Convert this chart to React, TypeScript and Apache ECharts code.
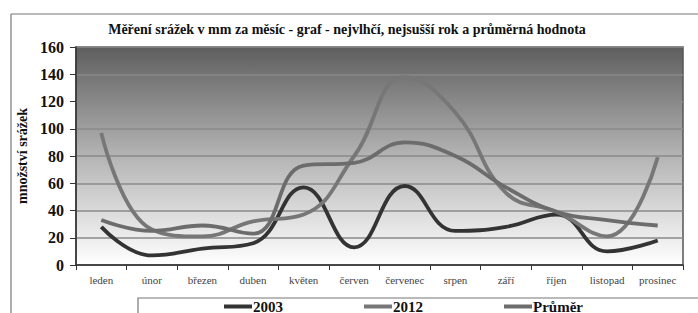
import React, { useEffect, useRef } from "react";
import * as echarts from "echarts";

const months = ["leden", "únor", "březen", "duben", "květen", "červen", "červenec", "srpen", "září", "říjen", "listopad", "prosinec"];
const s2003 = [28, 7, 12, 16, 57, 13, 58, 25, 28, 37, 10, 18];
const s2012 = [97, 26, 21, 32, 37, 80, 138, 112, 53, 39, 21, 79];
const sAvg = [33, 25, 29, 23, 73, 75, 90, 80, 57, 39, 33, 29];
const yTicks = [0, 20, 40, 60, 80, 100, 120, 140, 160];

const SERIF = "Liberation Serif, Times New Roman, serif";

export default function App() {
  const ref = useRef<HTMLDivElement>(null);
  useEffect(() => {
    if (!ref.current) return;
    const chart = echarts.init(ref.current, null, { renderer: "svg" });
    const mk = (name: string, data: number[], color: string) => ({
      name,
      type: "line",
      data,
      smooth: 0.45,
      showSymbol: false,
      symbol: "none",
      lineStyle: { color, width: 3.8 },
      itemStyle: { color },
    });
    chart.setOption({
      animation: false,
      backgroundColor: "#ffffff",
      title: {
        text: "Měření srážek v mm za měsíc - graf - nejvlhčí, nejsušší rok a průměrná hodnota",
        left: 347,
        textAlign: "center",
        top: 22,
        padding: 0,
        textStyle: { fontFamily: SERIF, fontWeight: "bold", fontSize: 14, color: "#111" },
      },
      grid: {
        left: 76,
        right: 15,
        top: 47,
        bottom: 48,
        show: true,
        borderColor: "#555",
        borderWidth: 1.5,
        backgroundColor: new echarts.graphic.LinearGradient(0, 0, 0, 1, [
          { offset: 0, color: "#5e5e5e" },
          { offset: 0.5, color: "#b4b4b4" },
          { offset: 1, color: "#ffffff" },
        ]),
      },
      legend: {
        left: 224,
        top: 299,
        padding: 0,
        itemGap: 81,
        itemWidth: 28,
        itemHeight: 4,
        icon: "rect",
        data: ["2003", "2012", "Průměr"],
        textStyle: { fontFamily: SERIF, fontWeight: "bold", fontSize: 15, color: "#111", padding: [0, 0, 0, -4] },
      },
      xAxis: {
        type: "category",
        data: months,
        boundaryGap: true,
        axisLine: { lineStyle: { color: "#333", width: 1.5 } },
        axisTick: { show: true, length: 5, lineStyle: { color: "#333" } },
        axisLabel: { fontFamily: SERIF, fontSize: 11, color: "#444", margin: 9, interval: 0 },
      },
      yAxis: {
        type: "value",
        min: yTicks[0],
        max: yTicks[yTicks.length - 1],
        interval: 20,
        name: "množství srážek",
        nameLocation: "middle",
        nameGap: 46,
        nameRotate: 90,
        nameTextStyle: { fontFamily: SERIF, fontWeight: "bold", fontSize: 14, color: "#111" },
        axisLine: { show: true, lineStyle: { color: "#333", width: 1.5 } },
        axisTick: { show: true, length: 6, lineStyle: { color: "#333" } },
        axisLabel: { fontFamily: SERIF, fontWeight: "bold", fontSize: 16, color: "#111", margin: 12 },
        splitLine: { show: true, lineStyle: { color: "#8a8a8a", width: 1.5 } },
      },
      graphic: [
        { type: "line", shape: { x1: 11, y1: 14, x2: 698, y2: 14 }, style: { stroke: "#777", lineWidth: 1.2 } },
        { type: "line", shape: { x1: 11, y1: 14, x2: 11, y2: 313 }, style: { stroke: "#777", lineWidth: 1.2 } },
        { type: "rect", shape: { x: 138, y: 298, width: 570, height: 25 }, style: { fill: "none", stroke: "#777", lineWidth: 1.2 }, z: -1 },
      ],
      series: [mk("2003", s2003, "#333333"), mk("2012", s2012, "#777777"), mk("Průměr", sAvg, "#6c6c6c")],
    });
    return () => chart.dispose();
  }, []);
  return <div ref={ref} style={{ width: 698, height: 313, position: "absolute", left: 0, top: 0 }} />;
}
